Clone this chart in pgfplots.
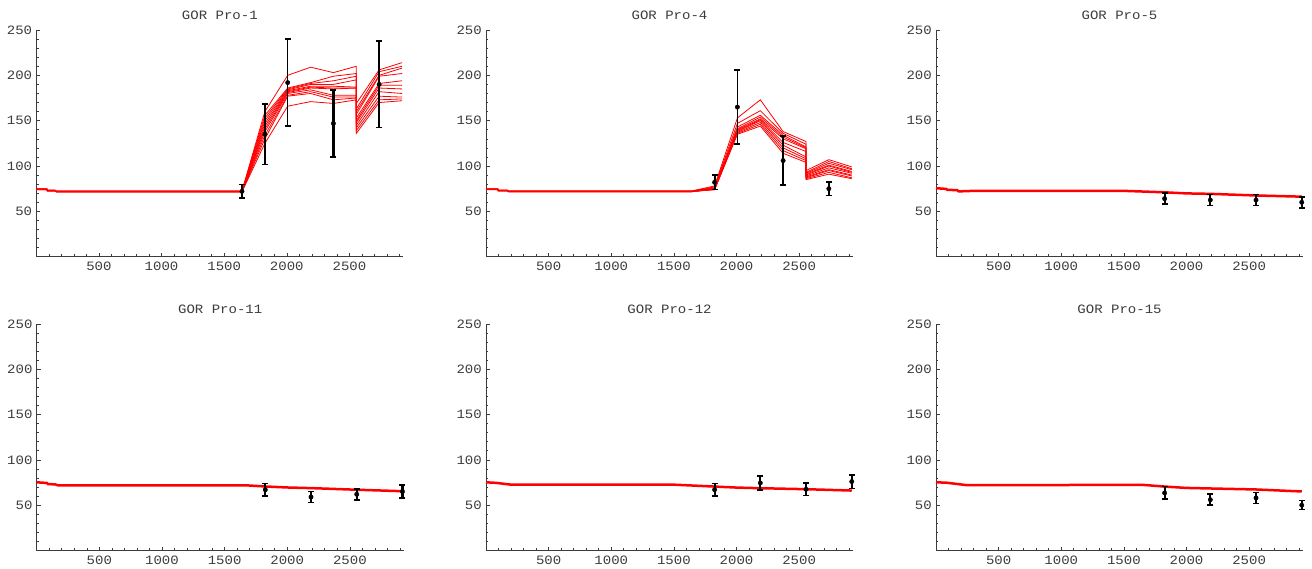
\documentclass[border=0pt]{standalone}
\usepackage{fontspec}
\setmainfont[FakeStretch=1.1]{Liberation Mono}
\usepackage{pgfplots}
\pgfplotsset{compat=1.18}

\definecolor{axisgray}{RGB}{60,60,60}
\definecolor{simred}{RGB}{255,0,0}

\pgfplotsset{
  gorpanel/.style={
    scale only axis,
    width=367bp, height=226.7bp,
    xmin=0, xmax=2930, ymin=0, ymax=250,
    axis lines*=left,
    axis line style={axisgray, line width=0.8bp},
    xtick={500,1000,...,2500},
    ytick={50,100,...,250},
    minor xtick={100,200,...,2900},
    minor ytick={10,20,...,240},
    tick align=inside,
    major tick length=4bp, minor tick length=2.2bp,
    tick style={axisgray, line width=0.6bp},
    tick label style={font=\fontsize{12.8}{14}\selectfont, text=axisgray},
    xticklabel style={anchor=north, inner sep=0pt, yshift=-5bp},
    yticklabel style={anchor=east, inner sep=0pt, xshift=-4bp},
    /pgf/number format/assume math mode=true,
    /pgf/number format/1000 sep={},
    every axis title/.style={at={(0.5,1)}, anchor=center, yshift=14.5bp, inner sep=0pt,
      font=\fontsize{12.8}{14}\selectfont, text=axisgray},
    clip=false,
  },
  sim/.style={simred, line width=0.8bp, mark=none},
  simthick/.style={simred, line width=2.5bp, mark=none},
  obs/.style={only marks, mark=*, mark size=2.2bp, black,
    error bars/.cd, y dir=both, y explicit,
    error bar style={line width=#1, black},
    error mark options={rotate=90, mark size=3bp, line width=1.6bp, black}},
  obs/.default=2.2bp,
}

\begin{document}
\begin{tikzpicture}
\useasboundingbox (0,0) rectangle (1312bp,569bp);

% ---------------- GOR Pro-1
\begin{axis}[gorpanel, at={(36.3bp,312.3bp)}, anchor=south west, title={GOR Pro-1}]
\addplot[sim] coordinates {(0,74.8)(85,74.8)(88,73.4)(150,73.4)(160,72.4)(1642,72.4)(1825,160)(2007,200)(2190,209)(2372,203)(2555,210)(2555,169)(2737,206)(2920,214)};
\addplot[sim] coordinates {(0,74.6)(85,74.6)(88,73.2)(150,73.2)(160,72.2)(1642,72.2)(1825,156)(2007,186)(2190,192)(2372,199)(2555,202)(2555,163)(2737,204)(2920,210)};
\addplot[sim] coordinates {(0,74.4)(85,74.4)(88,73)(150,73)(160,72)(1642,72)(1825,153)(2007,185)(2190,191)(2372,194)(2555,199)(2555,160)(2737,200)(2920,208)};
\addplot[sim] coordinates {(0,74.2)(85,74.2)(88,72.8)(150,72.8)(160,71.8)(1642,71.8)(1825,150)(2007,184)(2190,190)(2372,190)(2555,195)(2555,157)(2737,199)(2920,202)};
\addplot[sim] coordinates {(0,74.0)(85,74.0)(88,72.6)(150,72.6)(160,71.6)(1642,71.6)(1825,147)(2007,183)(2190,188)(2372,188)(2555,187)(2555,153)(2737,191)(2920,194)};
\addplot[sim] coordinates {(0,73.8)(85,73.8)(88,72.4)(150,72.4)(160,71.4)(1642,71.4)(1825,144)(2007,182)(2190,187)(2372,186)(2555,186)(2555,150)(2737,189)(2920,189)};
\addplot[sim] coordinates {(0,74.7)(85,74.7)(88,73.3)(150,73.3)(160,72.3)(1642,72.3)(1825,141)(2007,181)(2190,186)(2372,185)(2555,186)(2555,148)(2737,186)(2920,185)};
\addplot[sim] coordinates {(0,74.5)(85,74.5)(88,73.1)(150,73.1)(160,72.1)(1642,72.1)(1825,138)(2007,180)(2190,184)(2372,178)(2555,178)(2555,145)(2737,182)(2920,180)};
\addplot[sim] coordinates {(0,74.3)(85,74.3)(88,72.9)(150,72.9)(160,71.9)(1642,71.9)(1825,134)(2007,178)(2190,182)(2372,176)(2555,176)(2555,142)(2737,177)(2920,176)};
\addplot[sim] coordinates {(0,74.1)(85,74.1)(88,72.7)(150,72.7)(160,71.7)(1642,71.7)(1825,130)(2007,177)(2190,180)(2372,173)(2555,175)(2555,139)(2737,173)(2920,174)};
\addplot[sim] coordinates {(0,73.9)(85,73.9)(88,72.5)(150,72.5)(160,71.5)(1642,71.5)(1825,125)(2007,166)(2190,171)(2372,169)(2555,173)(2555,136)(2737,170)(2920,172)};
\addplot[obs] coordinates {(1642,72) +- (0,7.5) (1825,135) +- (0,33.5) (2372,147) +- (0,37) (2737,190) +- (0,47.7)};
\addplot[obs=1.2bp] coordinates {(2007,192) +- (0,48)};
\end{axis}

% ---------------- GOR Pro-4
\begin{axis}[gorpanel, at={(486bp,312.3bp)}, anchor=south west, title={GOR Pro-4}]
\addplot[sim] coordinates {(0,74.8)(95,74.8)(98,73.4)(170,73.4)(180,72.5)(1642,72.5)(1825,78)(2007,153)(2190,173)(2372,138)(2555,127)(2555,95)(2737,107)(2920,99)};
\addplot[sim] coordinates {(0,74.6)(95,74.6)(98,73.2)(170,73.2)(180,72.3)(1642,72.3)(1825,77)(2007,147)(2190,161)(2372,136)(2555,124)(2555,93)(2737,105)(2920,97)};
\addplot[sim] coordinates {(0,74.4)(95,74.4)(98,73)(170,73)(180,72.1)(1642,72.1)(1825,76)(2007,143)(2190,156)(2372,134)(2555,121)(2555,92)(2737,103)(2920,96)};
\addplot[sim] coordinates {(0,74.2)(95,74.2)(98,72.8)(170,72.8)(180,71.9)(1642,71.9)(1825,76)(2007,141)(2190,154)(2372,132)(2555,120)(2555,91)(2737,101)(2920,94)};
\addplot[sim] coordinates {(0,74.0)(95,74.0)(98,72.6)(170,72.6)(180,71.7)(1642,71.7)(1825,75)(2007,140)(2190,152)(2372,130)(2555,119)(2555,90)(2737,100)(2920,93)};
\addplot[sim] coordinates {(0,73.8)(95,73.8)(98,72.4)(170,72.4)(180,71.5)(1642,71.5)(1825,75)(2007,139)(2190,151)(2372,126)(2555,116)(2555,89)(2737,98)(2920,92)};
\addplot[sim] coordinates {(0,74.7)(95,74.7)(98,73.3)(170,73.3)(180,72.4)(1642,72.4)(1825,75)(2007,138)(2190,150)(2372,123)(2555,110)(2555,88)(2737,96)(2920,90)};
\addplot[sim] coordinates {(0,74.5)(95,74.5)(98,73.1)(170,73.1)(180,72.2)(1642,72.2)(1825,74)(2007,137)(2190,148)(2372,120)(2555,108)(2555,87)(2737,95)(2920,89)};
\addplot[sim] coordinates {(0,74.3)(95,74.3)(98,72.9)(170,72.9)(180,72)(1642,72)(1825,74)(2007,136)(2190,146)(2372,117)(2555,106)(2555,86)(2737,93)(2920,87)};
\addplot[sim] coordinates {(0,74.1)(95,74.1)(98,72.7)(170,72.7)(180,71.8)(1642,71.8)(1825,74)(2007,135)(2190,144)(2372,114)(2555,104)(2555,85)(2737,91)(2920,86)};
\addplot[obs] coordinates {(1825,82) +- (0,8) (2372,106) +- (0,27) (2737,75) +- (0,7.5)};
\addplot[obs=1.2bp] coordinates {(2007,165) +- (0,41)};
\end{axis}

% ---------------- GOR Pro-5
\begin{axis}[gorpanel, at={(936bp,312.3bp)}, anchor=south west, title={GOR Pro-5}]
\addplot[simthick] coordinates {(0,75.5)(80,74.8)(90,73.8)(170,73.3)(180,72)(300,72.6)(1500,72.6)(1825,71)(2000,69.8)(2190,69.3)(2555,67.5)(2920,66.2)};
\addplot[obs] coordinates {(1825,64) +- (0,6) (2190,62.5) +- (0,6) (2555,62.5) +- (0,6) (2920,60) +- (0,6)};
\end{axis}

% ---------------- GOR Pro-11
\begin{axis}[gorpanel, at={(36.7bp,18.5bp)}, anchor=south west, title={GOR Pro-11}]
\addplot[simthick] coordinates {(0,75.2)(80,74.5)(90,73.3)(150,72.8)(170,71.8)(1680,71.8)(1825,70.6)(2000,69.5)(2190,68.8)(2555,67)(2920,65.4)};
\addplot[obs] coordinates {(1825,67) +- (0,7) (2190,59) +- (0,6) (2555,62) +- (0,6) (2920,65) +- (0,7)};
\end{axis}

% ---------------- GOR Pro-12
\begin{axis}[gorpanel, at={(486bp,18.5bp)}, anchor=south west, title={GOR Pro-12}]
\addplot[simthick] coordinates {(0,75.2)(80,74.6)(200,72.6)(1500,72.6)(1825,70.5)(2000,69.4)(2190,68.7)(2555,67.6)(2920,66.1)};
\addplot[obs] coordinates {(1825,67) +- (0,7) (2190,74.5) +- (0,7.5) (2555,67.5) +- (0,7) (2920,76) +- (0,7.5)};
\end{axis}

% ---------------- GOR Pro-15
\begin{axis}[gorpanel, at={(936bp,18.5bp)}, anchor=south west, title={GOR Pro-15}]
\addplot[simthick] coordinates {(0,75.2)(80,74.8)(250,72)(1650,72.4)(1825,70.5)(2000,69)(2190,68.4)(2555,67.3)(2920,65.1)};
\addplot[obs] coordinates {(1825,63.5) +- (0,7) (2190,56) +- (0,6) (2555,58) +- (0,6) (2920,50) +- (0,5)};
\end{axis}
\end{tikzpicture}
\end{document}
